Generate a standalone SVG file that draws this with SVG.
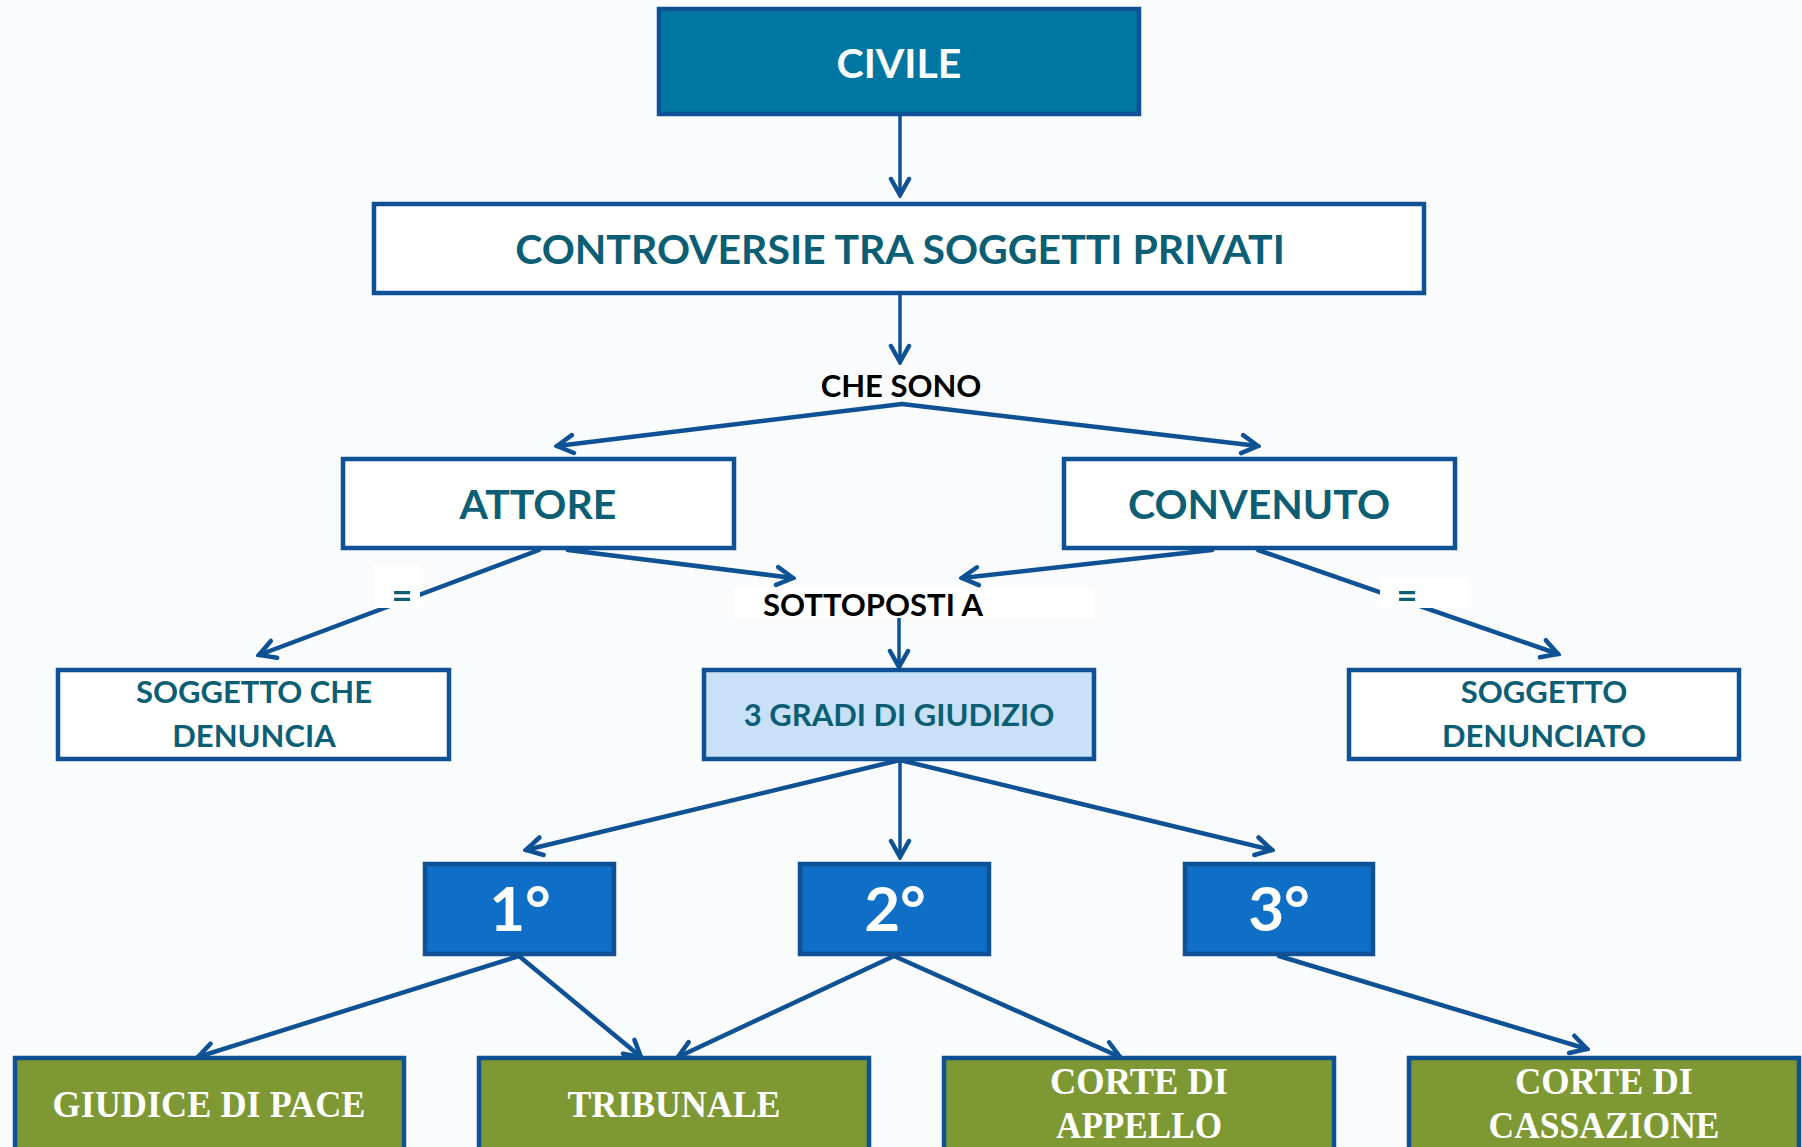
<svg xmlns="http://www.w3.org/2000/svg" width="1802" height="1147" viewBox="0 0 1802 1147">
<defs>
<style>
.box{stroke:#0E5194;stroke-width:4.5}
.w{fill:#FFFFFF}
.t{font-family:Lato,"Open Sans",sans-serif;font-weight:700;text-anchor:middle}
.teal{fill:#0B5E73}
.blk{fill:#000000}
.wt{fill:#FFFFFF}
.serif{font-family:"Liberation Serif","DejaVu Serif",serif;font-weight:700;fill:#FFFFFF;text-anchor:middle}
.c{fill:none;stroke:#0E5194;stroke-width:4.5;stroke-linecap:round}
.cv{fill:none;stroke:#0E5194;stroke-width:3.5}
</style>
<marker id="ah" viewBox="0 0 24 24" refX="21" refY="12" markerWidth="24" markerHeight="24" markerUnits="userSpaceOnUse" orient="auto">
<path d="M5,3 L21,12 L5,21" fill="none" stroke="#0E5194" stroke-width="4.5" stroke-linecap="round" stroke-linejoin="miter"/>
</marker>
</defs>
<rect x="0" y="0" width="1802" height="1147" fill="#FAFBFC"/>

<g id="connectors">
<line class="cv" x1="900" y1="115" x2="900" y2="195" marker-end="url(#ah)"/>
<line class="cv" x1="900" y1="294" x2="900" y2="362" marker-end="url(#ah)"/>
<line class="c" x1="902" y1="404" x2="557" y2="446" marker-end="url(#ah)"/>
<line class="c" x1="902" y1="404" x2="1258" y2="446" marker-end="url(#ah)"/>
<line class="c" x1="539" y1="550" x2="259" y2="655" marker-end="url(#ah)"/>
<line class="c" x1="568" y1="550" x2="793" y2="578" marker-end="url(#ah)"/>
<line class="c" x1="1212" y1="550" x2="962" y2="578" marker-end="url(#ah)"/>
<line class="c" x1="1258" y1="550" x2="1558" y2="654" marker-end="url(#ah)"/>
<line class="cv" x1="899" y1="618" x2="899" y2="667" marker-end="url(#ah)"/>
<line class="c" x1="900" y1="760" x2="526" y2="850" marker-end="url(#ah)"/>
<line class="cv" x1="900" y1="760" x2="900" y2="857" marker-end="url(#ah)"/>
<line class="c" x1="900" y1="760" x2="1272" y2="850" marker-end="url(#ah)"/>
<line class="c" x1="519" y1="956" x2="198" y2="1057" marker-end="url(#ah)"/>
<line class="c" x1="519" y1="956" x2="641" y2="1057" marker-end="url(#ah)"/>
<line class="c" x1="894" y1="956" x2="678" y2="1057" marker-end="url(#ah)"/>
<line class="c" x1="894" y1="956" x2="1120" y2="1057" marker-end="url(#ah)"/>
<line class="c" x1="1279" y1="956" x2="1587" y2="1049" marker-end="url(#ah)"/>
</g>

<g id="label-che-sono">
<text class="t blk" x="901" y="397" font-size="31">CHE SONO</text>
</g>
<g id="label-eq-left">
<rect x="373" y="565" width="47" height="43" fill="#FFFFFF"/>
<text class="t teal" x="402" y="608" font-size="36">=</text>
</g>
<g id="label-eq-right">
<rect x="1380" y="578" width="88" height="30" fill="#FFFFFF"/>
<text class="t teal" x="1407" y="608" font-size="36">=</text>
</g>
<g id="label-sottoposti">
<rect x="733" y="588" width="362" height="30" fill="#FFFFFF"/>
<text class="t blk" x="873" y="616" font-size="31">SOTTOPOSTI A</text>
</g>

<g id="node-civile">
<rect class="box" x="659" y="9" width="480" height="105" fill="#0077A2"/>
<text class="t wt" x="899" y="78" font-size="41">CIVILE</text>
</g>
<g id="node-controversie">
<rect class="box w" x="374" y="204" width="1050" height="89"/>
<text class="t teal" x="900" y="264" font-size="41">CONTROVERSIE TRA SOGGETTI PRIVATI</text>
</g>
<g id="node-attore">
<rect class="box w" x="343" y="459" width="391" height="89"/>
<text class="t teal" x="538" y="519" font-size="41">ATTORE</text>
</g>
<g id="node-convenuto">
<rect class="box w" x="1064" y="459" width="391" height="89"/>
<text class="t teal" x="1259" y="519" font-size="41">CONVENUTO</text>
</g>
<g id="node-soggetto-che-denuncia">
<rect class="box w" x="58" y="670" width="391" height="89"/>
<text class="t teal" x="254" y="703" font-size="31">SOGGETTO CHE</text>
<text class="t teal" x="254" y="747" font-size="31">DENUNCIA</text>
</g>
<g id="node-3-gradi">
<rect class="box" x="704" y="670" width="390" height="89" fill="#C8E1F9"/>
<text class="t teal" x="899" y="726" font-size="31">3 GRADI DI GIUDIZIO</text>
</g>
<g id="node-soggetto-denunciato">
<rect class="box w" x="1349" y="670" width="390" height="89"/>
<text class="t teal" x="1544" y="703" font-size="31">SOGGETTO</text>
<text class="t teal" x="1544" y="747" font-size="31">DENUNCIATO</text>
</g>
<g id="node-1">
<rect class="box" x="425" y="864" width="189" height="90" fill="#0F6EC6"/>
<text class="t wt" x="520" y="931" font-size="62">1°</text>
</g>
<g id="node-2">
<rect class="box" x="800" y="864" width="189" height="90" fill="#0F6EC6"/>
<text class="t wt" x="895" y="931" font-size="62">2°</text>
</g>
<g id="node-3">
<rect class="box" x="1185" y="864" width="188" height="90" fill="#0F6EC6"/>
<text class="t wt" x="1279" y="931" font-size="62">3°</text>
</g>
<g id="node-giudice-di-pace">
<rect class="box" x="15" y="1058" width="389" height="100" fill="#7E9834"/>
<text class="serif" x="209" y="1117" font-size="38" textLength="313" lengthAdjust="spacingAndGlyphs">GIUDICE DI PACE</text>
</g>
<g id="node-tribunale">
<rect class="box" x="479" y="1058" width="390" height="100" fill="#7E9834"/>
<text class="serif" x="674" y="1117" font-size="38" textLength="213" lengthAdjust="spacingAndGlyphs">TRIBUNALE</text>
</g>
<g id="node-corte-appello">
<rect class="box" x="944" y="1058" width="390" height="100" fill="#7E9834"/>
<text class="serif" x="1139" y="1094" font-size="38" textLength="178" lengthAdjust="spacingAndGlyphs">CORTE DI</text>
<text class="serif" x="1139" y="1138" font-size="38" textLength="166" lengthAdjust="spacingAndGlyphs">APPELLO</text>
</g>
<g id="node-corte-cassazione">
<rect class="box" x="1409" y="1058" width="390" height="100" fill="#7E9834"/>
<text class="serif" x="1604" y="1094" font-size="38" textLength="178" lengthAdjust="spacingAndGlyphs">CORTE DI</text>
<text class="serif" x="1604" y="1138" font-size="38" textLength="231" lengthAdjust="spacingAndGlyphs">CASSAZIONE</text>
</g>
</svg>
